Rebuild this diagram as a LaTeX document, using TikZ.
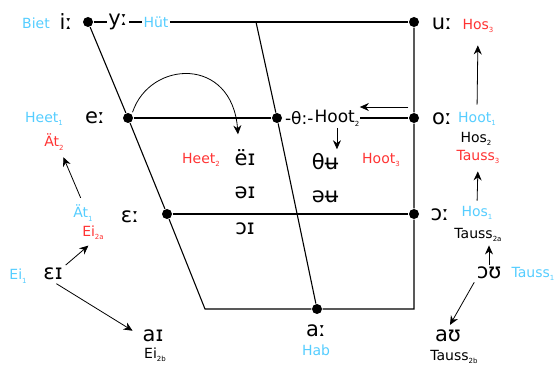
\documentclass[tikz,border=0pt]{standalone}
\usepackage{fontspec}
\setmainfont{DejaVu Sans}
\usetikzlibrary{arrows.meta}
\definecolor{lblue}{RGB}{85,205,255}
\definecolor{lred}{RGB}{255,51,51}
\newcommand\ix[1]{\raisebox{-.45ex}{\fontsize{7}{8}\selectfont#1}}
\begin{document}
\begin{tikzpicture}[x=1pt,y=-1pt,line width=1.1pt,>={Stealth[length=9pt,width=8pt]},
  dot/.style={circle,fill,inner sep=0pt,minimum size=10pt},
  vow/.style={inner sep=1pt,font=\fontsize{21}{24}\selectfont},
  lab/.style={inner sep=1pt,font=\fontsize{14}{16}\selectfont},
  cy/.style={lab,text=lblue},
  rd/.style={lab,text=lred},
  mid/.style={inner ysep=1pt,inner xsep=0pt,font=\fontsize{17}{19}\selectfont,anchor=west},
  arr/.style={->,line width=.8pt}]
\useasboundingbox (0,0) rectangle (554,366);
% corners of the vowel chart
\node[dot] (i) at (88,22) {};
\node[dot] (u) at (414,22) {};
\node[dot] (e) at (128,118) {};
\node[dot] (th) at (277,118) {};
\node[dot] (o) at (414,118) {};
\node[dot] (eps) at (167,214) {};
\node[dot] (oo) at (414,214) {};
\node[dot] (a) at (317,309) {};
\coordinate (bl) at (205,309);
\coordinate (br) at (414,309);
\coordinate (top) at (256,22);
% vowels
\node[vow] (iv) at (66,22) {iː};
\node[vow] (yy) at (118,22) {yː};
\node[vow] (uv) at (442,24) {uː};
\node[vow] (ev) at (95,118) {eː};
\node[vow] (ov) at (442,119) {oː};
\node[vow] (epsv) at (130,217) {ɛː};
\node[vow] (oov) at (440,215) {ɔː};
\node[vow] (av) at (316,331) {aː};
\node[vow] (eii) at (245,158) {ëɪ};
\node[vow] (schwi) at (245,193) {əɪ};
\node[vow] (oi) at (245,229) {ɔɪ};
\node[vow] (thu) at (325,162) {θʉ};
\node[vow] (schwu) at (325,197) {əʉ};
\node[vow] (epsi) at (53,274) {ɛɪ};
\node[vow] (ai) at (153,336) {aɪ};
\node[vow] (ou) at (489,273) {ɔʊ};
\node[vow] (au) at (448,336) {aʊ};
\node[mid] (thl) at ([xshift=2pt]th.east) {-θ:-};
\node[mid] (hoot2) at (thl.east) {Hoot\ix{2}};
% words
\node[cy] (biet) at (36,23) {Biet};
\node[cy] (hut) at (156,22) {Hüt};
\node[rd] (hos3) at (478,26) {Hos\ix{3}};
\node[cy] (heet1) at (44,119) {Heet\ix{1}};
\node[cy] (hoot1) at (477,119) {Hoot\ix{1}};
\node[lab] (hos2) at (476,139) {Hos\ix{2}};
\node[rd] (tauss3) at (478,157) {Tauss\ix{3}};
\node[rd] (at2) at (54,142) {Ät\ix{2}};
\node[cy] (at1) at (83,213) {Ät\ix{1}};
\node[rd] (ei2a) at (93,233) {Ei\ix{2a}};
\node[rd] (heet2) at (201,160) {Heet\ix{2}};
\node[rd] (hoot3) at (381,160) {Hoot\ix{3}};
\node[cy] (hos1) at (477,213) {Hos\ix{1}};
\node[lab] (tauss2a) at (478,235) {Tauss\ix{2a}};
\node[cy] (ei1) at (18,276) {Ei\ix{1}};
\node[lab] (ei2b) at (155,355) {Ei\ix{2b}};
\node[cy] (hab) at (316,350) {Hab};
\node[cy] (tauss1) at (533,274) {Tauss\ix{1}};
\node[lab] (tauss2b) at (454,357) {Tauss\ix{2b}};
% chart lines
\draw (i) -- (e) -- (eps) -- (bl) -- (a) -- (br) -- (oo) -- (o) -- (u);
\draw (i) -- (yy) -- (hut) -- (u);
\draw (top) -- (th) -- (a);
\draw (e) -- (th);
\draw (hoot2) -- (o);
\draw (eps) -- (oo);
% shifts
\draw[arr,shorten <=2pt] (e.north east) .. controls (150,60) and (232,56) .. ([shift={(-7pt,14pt)}]eii.north);
\draw[arr] ([yshift=11pt]o.west) -- ([yshift=11pt]hoot2.east);
\draw[arr,shorten >=3pt] (hoot2.south) -- (thu.north -| hoot2.south);
\draw[arr,shorten <=6pt,shorten >=11pt] (hoot1.north) -- (hos3.south);
\draw[arr,shorten <=4pt,shorten >=6pt] (hos1.north) -- (tauss3.south);
\draw[arr,shorten >=2pt] (ou.north) -- (ou.north |- tauss2a.south);
\draw[arr,shorten <=2pt,shorten >=4pt] (ou.south west) -- (au.north);
\draw[arr,shorten <=6pt,shorten >=6pt] (at1.north) -- ([xshift=7pt]at2.south);
\draw[arr,shorten <=2pt,shorten >=6pt] (epsi.north east) -- (ei2a.south);
\draw[arr,shorten <=4pt,shorten >=10pt] (epsi.south) -- (ai.west);
\end{tikzpicture}
\end{document}
